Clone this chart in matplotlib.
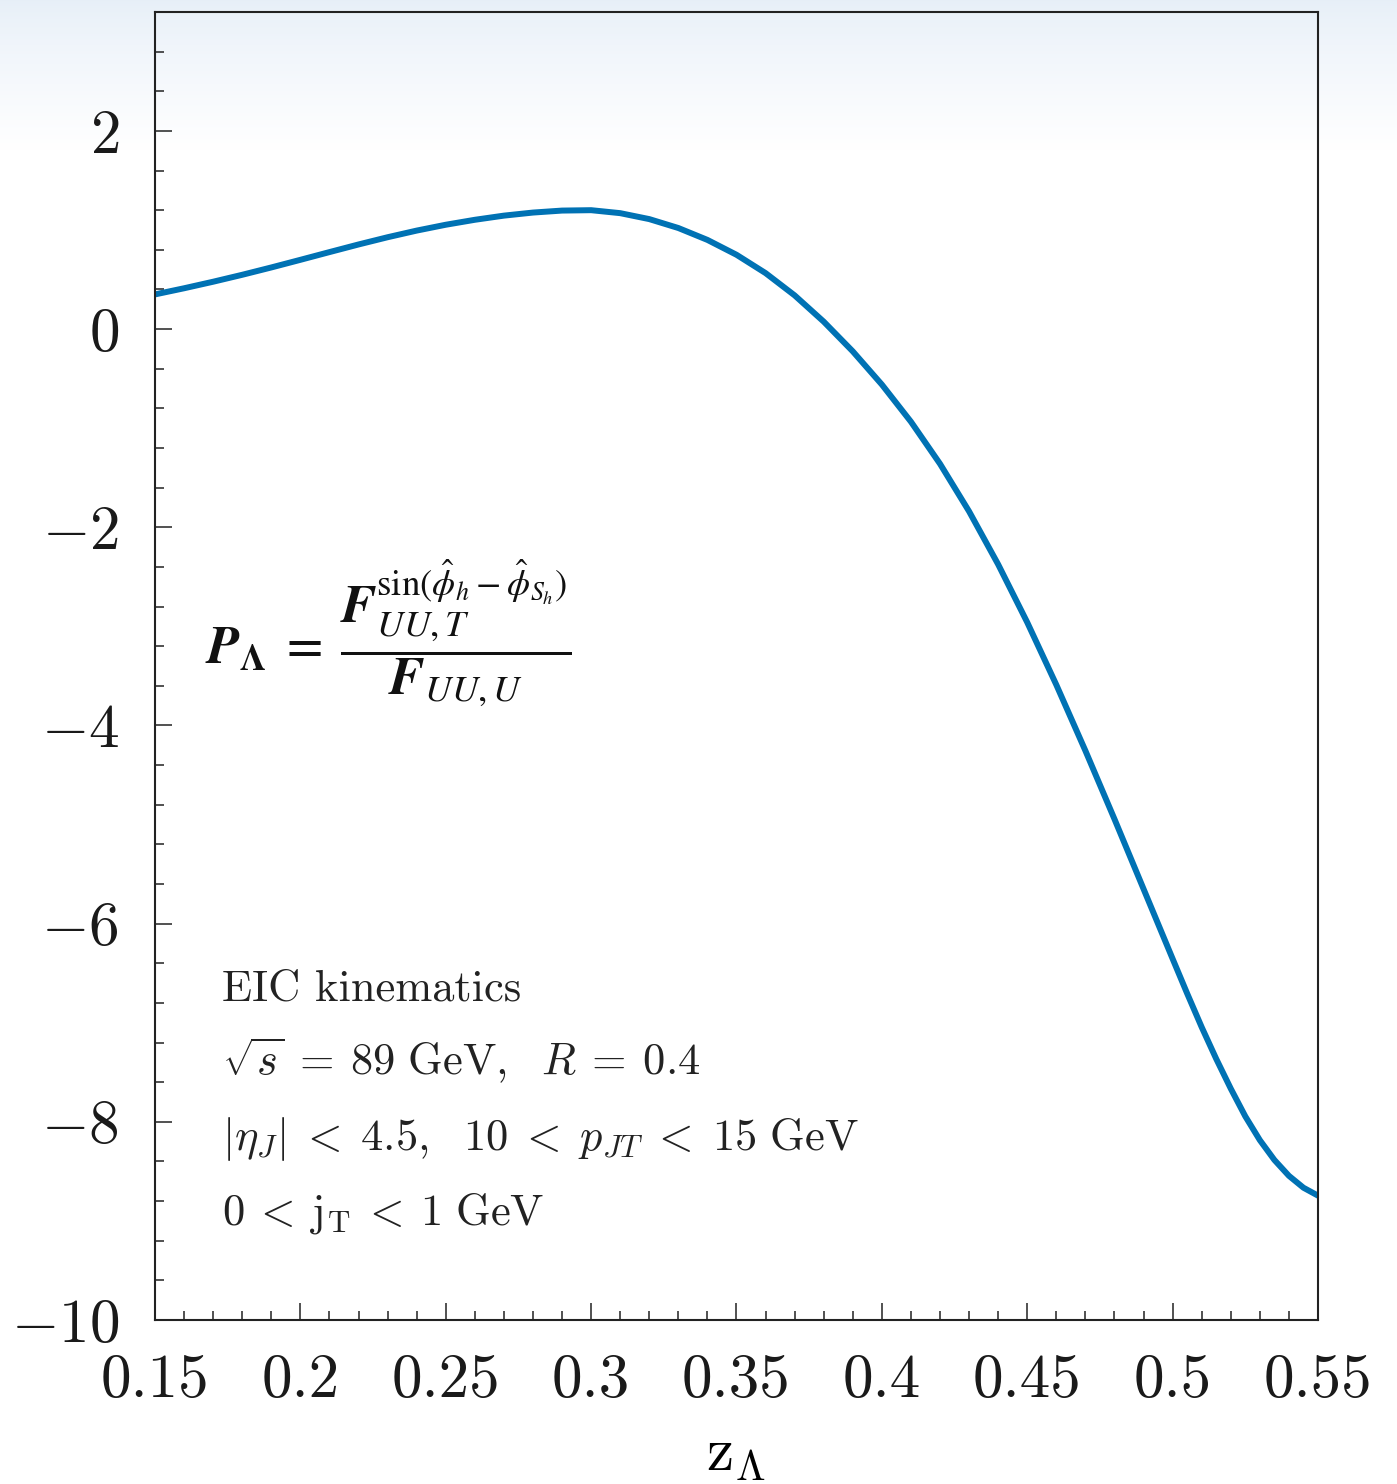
import numpy as np
import matplotlib
matplotlib.use("Agg")
import matplotlib.pyplot as plt
from matplotlib.ticker import MultipleLocator

plt.rcParams['font.family'] = 'serif'
plt.rcParams['font.serif'] = ['cmr10', 'DejaVu Serif']
plt.rcParams['mathtext.fontset'] = 'cm'
plt.rcParams['axes.formatter.use_mathtext'] = True

# polarization vs z_Lambda (finer steps where the curve bends hard at the end)
z = [0.15, 0.16, 0.17, 0.18, 0.19, 0.20, 0.21, 0.22, 0.23, 0.24,
     0.25, 0.26, 0.27, 0.28, 0.29, 0.30, 0.31, 0.32, 0.33, 0.34,
     0.35, 0.36, 0.37, 0.38, 0.39, 0.40, 0.41, 0.42, 0.43, 0.44,
     0.45, 0.46, 0.47, 0.48, 0.49, 0.50, 0.505, 0.51, 0.515, 0.52,
     0.525, 0.53, 0.535, 0.54, 0.545, 0.55]
P = [0.350, 0.412, 0.478, 0.548, 0.622, 0.699, 0.777, 0.854, 0.927, 0.994,
     1.053, 1.103, 1.145, 1.176, 1.196, 1.200, 1.170, 1.110, 1.020, 0.900,
     0.750, 0.565, 0.340, 0.075, -0.225, -0.560, -0.935, -1.360, -1.840, -2.375,
     -2.960, -3.590, -4.255, -4.945, -5.650, -6.355, -6.705, -7.045, -7.365, -7.665,
     -7.945, -8.185, -8.385, -8.545, -8.665, -8.745]

xticks = [0.15, 0.2, 0.25, 0.3, 0.35, 0.4, 0.45, 0.5, 0.55]
xticklabels = ['0.15', '0.2', '0.25', '0.3', '0.35', '0.4', '0.45', '0.5', '0.55']
yticks = [-10, -8, -6, -4, -2, 0, 2]

W, H = 1397, 1484
fig = plt.figure(figsize=(W / 100, H / 100), dpi=100)

# soft bluish haze along the top edge
bg = fig.add_axes([0, 0, 1, 1], zorder=-10)
rows = np.linspace(0, 1, H)
t = np.clip(rows * H / 150.0, 0, 1) ** 0.8
top = np.array([0.905, 0.937, 0.972])
grad = top[None, :] * (1 - t[:, None]) + t[:, None]
bg.imshow(grad[:, None, :], aspect='auto', extent=[0, 1, 0, 1])
bg.axis('off')

ax = fig.add_axes([155 / W, 1 - 1320 / H, 1163 / W, 1308 / H])
ax.set_facecolor('none')

ax.plot(z, P, color='#0072b4', lw=4.3, solid_joinstyle='round')

ax.set_xlim(0.15, 0.55)
ax.set_ylim(-10, 3.2)
ax.set_xticks(xticks)
ax.set_xticklabels(xticklabels)
ax.set_yticks(yticks)
ax.xaxis.set_minor_locator(MultipleLocator(0.01))
ax.yaxis.set_minor_locator(MultipleLocator(0.4))
ax.tick_params(which='both', direction='in', top=False, right=False,
               color='#222222', width=1.1)
ax.tick_params(which='major', length=12.5, labelsize=44, labelcolor='#1a1a1a')
ax.tick_params(which='minor', length=6.5)
ax.tick_params(axis='x', pad=24)
ax.tick_params(axis='y', pad=26)
for s in ax.spines.values():
    s.set_linewidth(1.5)
    s.set_color('#222222')

ax.set_xlabel(r'$\mathrm{z}_{\Lambda}$', fontsize=44, labelpad=14)

ax.text(0.043, 0.525,
        r'$\mathbfit{P}_{\mathbf{\Lambda}}\;=\;\dfrac{\mathbfit{F}_{\mathit{UU,T}}^{\sin(\hat{\phi}_h - \hat{\phi}_{S_h})}}{\mathbfit{F}_{\mathit{UU,U}}}$',
        transform=ax.transAxes, fontsize=38, va='center', ha='left',
        math_fontfamily='stix', color='#111111')

info = ['EIC kinematics',
        r'$\sqrt{s}\:=\:89\ \mathrm{GeV},\ \ R\:=\:0.4$',
        r'$|\eta_J|\;<\;4.5,\ \ 10\;<\;p_{JT}\;<\;15\ \mathrm{GeV}$',
        r'$0\:<\:\mathrm{j}_\mathrm{T}\:<\:1\ \mathrm{GeV}$']
for i, line in enumerate(info):
    ax.text(0.0576, 0.2446 - i * 0.0573, line, transform=ax.transAxes,
            fontsize=32, va='baseline', ha='left', color='#222222')

fig.savefig('out.png', dpi=100)
